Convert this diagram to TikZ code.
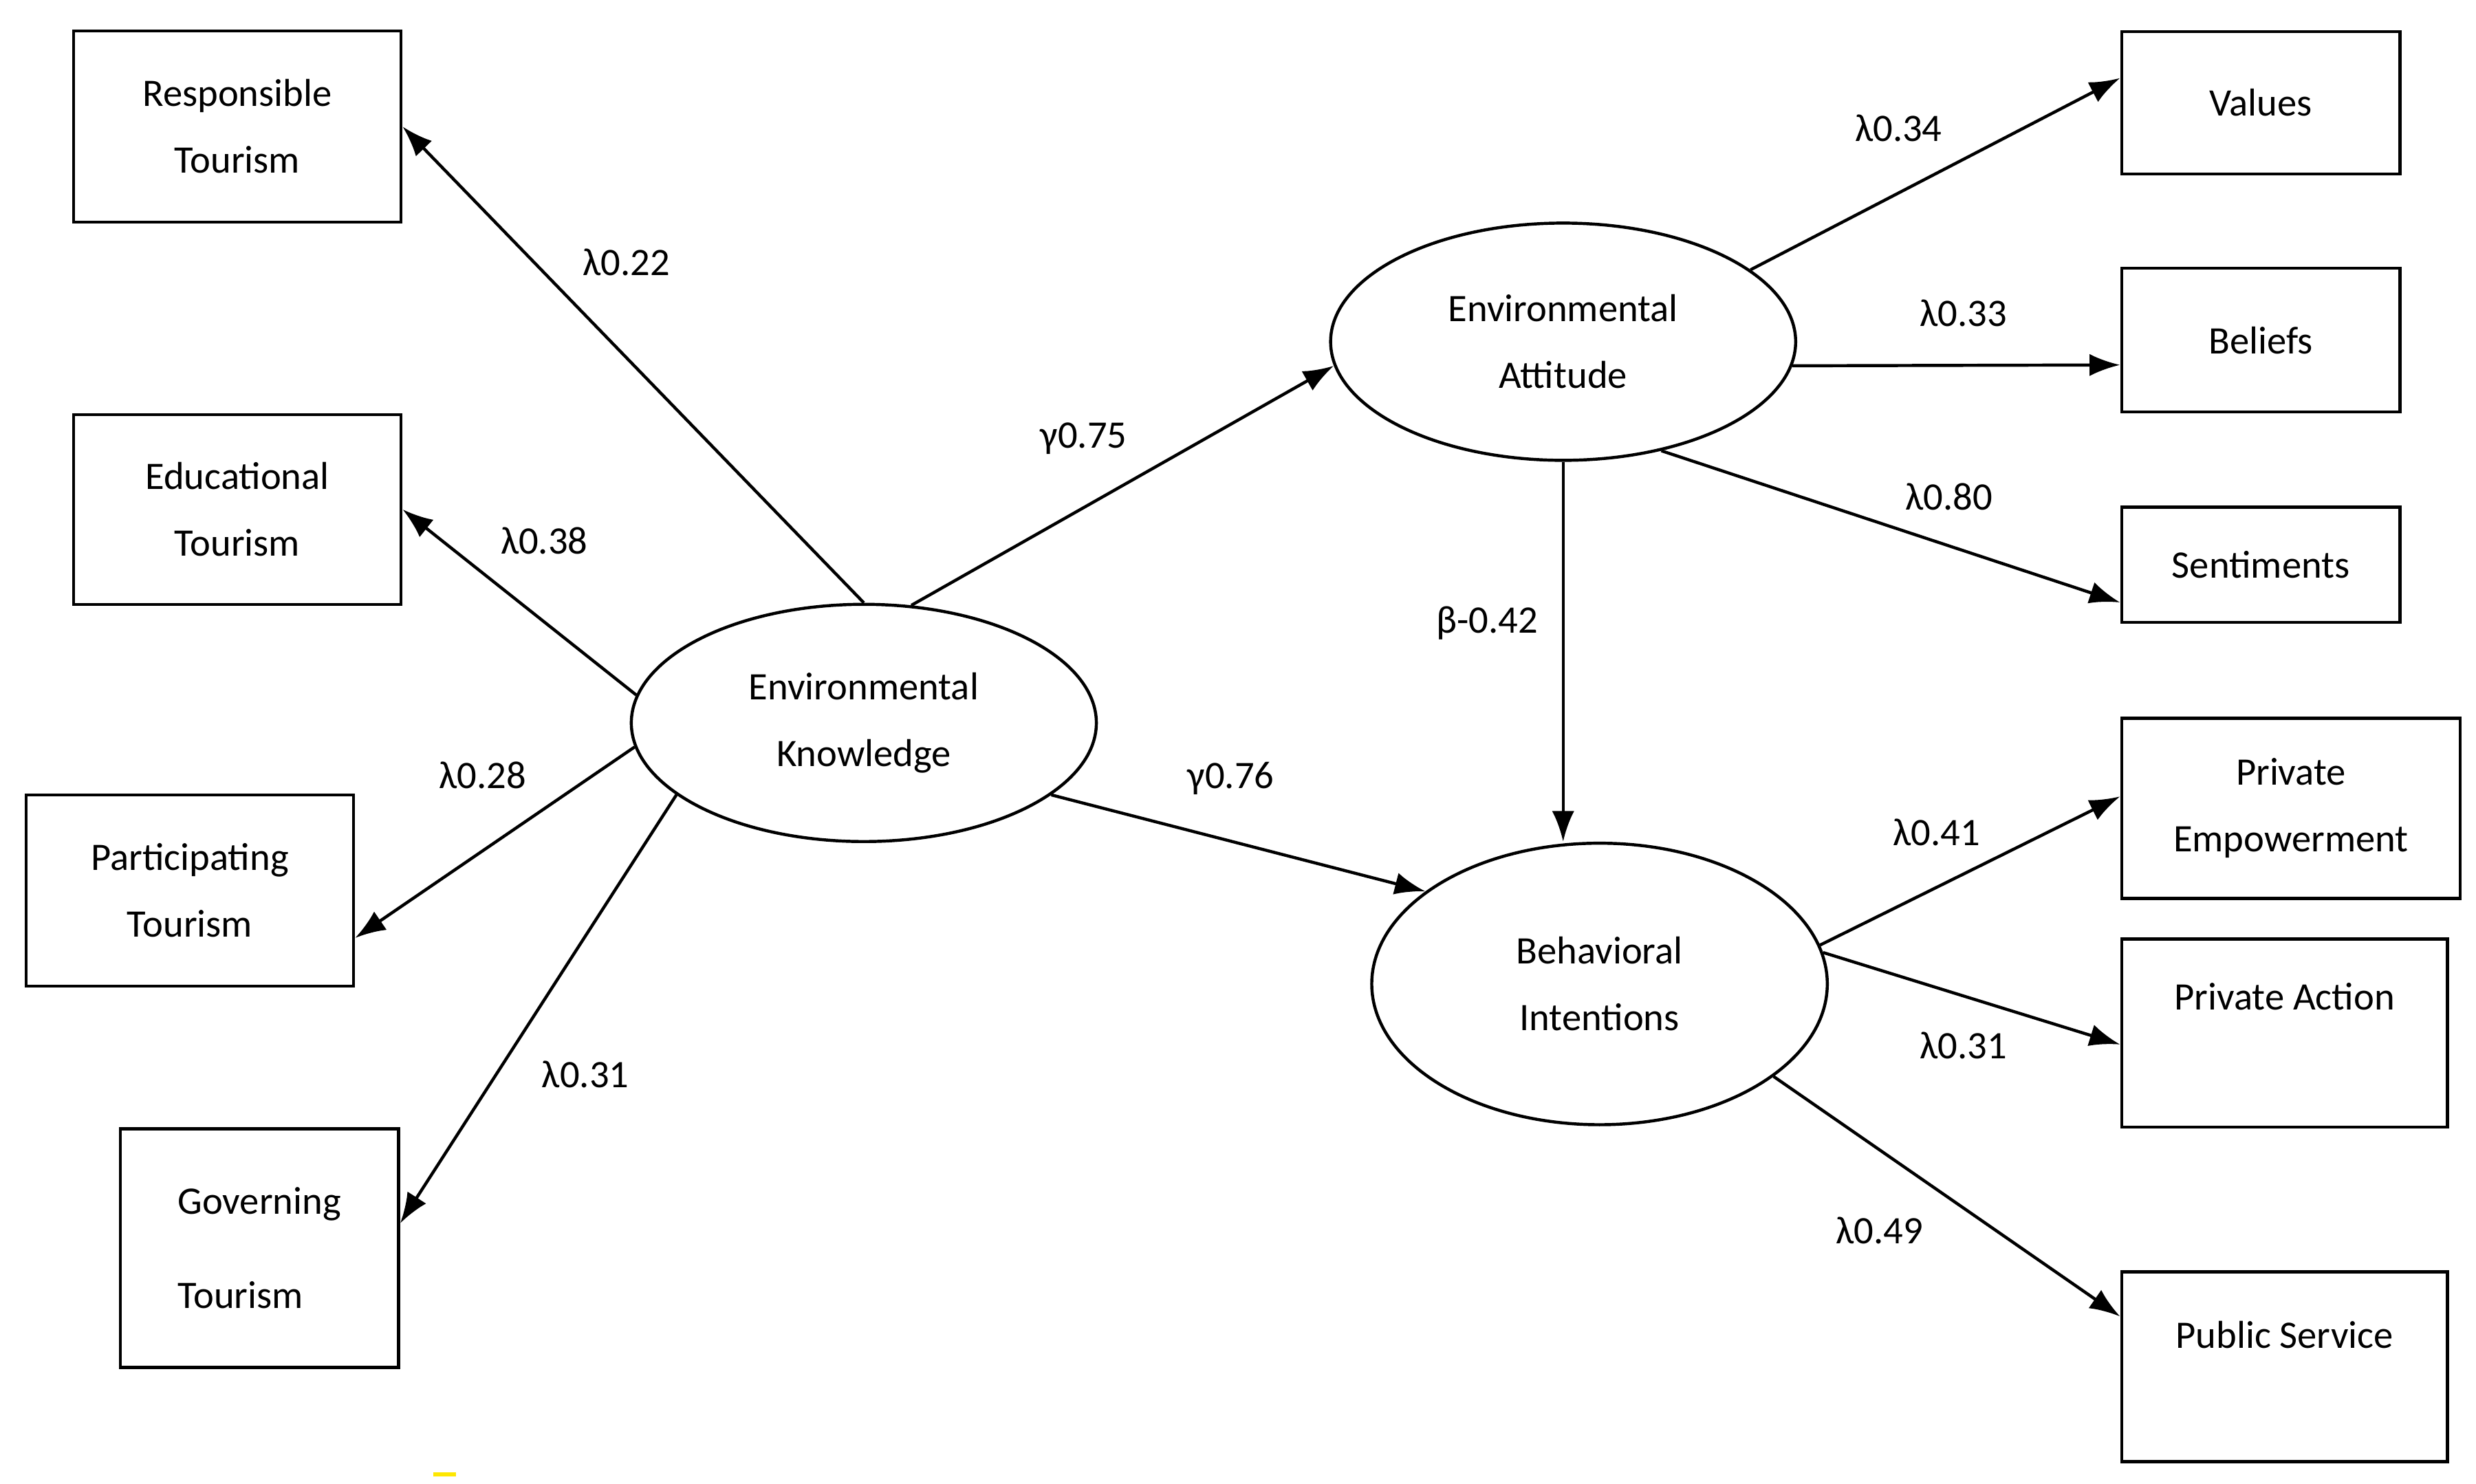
\documentclass[tikz,border=0pt]{standalone}
\usepackage{fontspec}
\setmainfont{Carlito}
\usetikzlibrary{shapes.geometric,arrows.meta}

\tikzset{
  obsbox/.style={draw, line width=1.1pt, rectangle, align=center, inner sep=0pt},
  latent/.style={draw, line width=1.1pt, ellipse, align=center, inner sep=0pt},
  path/.style={line width=1.1pt, -{Latex[length=11pt,width=8pt]}},
  coef/.style={font=\fontsize{14}{16}\selectfont}
}

\begin{document}
\begin{tikzpicture}[x=0.02cm, y=-0.02cm, font=\fontsize{14}{24}\selectfont]
\useasboundingbox (0,0) rectangle (1565,938);
% left indicators
\node[obsbox, minimum width=4.14cm, minimum height=2.42cm] (RT) at (150,80) {Responsible\\Tourism};
\node[obsbox, minimum width=4.14cm, minimum height=2.40cm] (ET) at (150,322) {Educational\\Tourism};
\node[obsbox, minimum width=4.14cm, minimum height=2.42cm] (PT) at (120,563) {Participating\\Tourism};
\node[obsbox, minimum width=3.52cm, minimum height=3.02cm, align=left] (GT) at (164,789) {Governing\\[0.35cm]Tourism};
% latent variables
\node[latent, minimum width=5.88cm, minimum height=3.0cm] (EK) at (546,457) {Environmental\\Knowledge};
\node[latent, minimum width=5.88cm, minimum height=3.0cm] (EA) at (988,216) {Environmental\\Attitude};
\node[latent, minimum width=5.76cm, minimum height=3.56cm] (BI) at (1011,622) {Behavioral\\Intentions};
% right indicators
\node[obsbox, minimum width=3.52cm, minimum height=1.80cm] (VA) at (1429,65) {Values};
\node[obsbox, minimum width=3.52cm, minimum height=1.82cm] (BE) at (1429,215) {Beliefs};
\node[obsbox, minimum width=3.52cm, minimum height=1.46cm] (SE) at (1429,357) {Sentiments};
\node[obsbox, minimum width=4.28cm, minimum height=2.28cm] (PE) at (1448,511) {Private\\Empowerment};
\node[obsbox, minimum width=4.12cm, minimum height=2.38cm,
  label={[anchor=north, yshift=-0.45cm]north:Private Action}] (PA) at (1444,653) {};
\node[obsbox, minimum width=4.12cm, minimum height=2.40cm,
  label={[anchor=north, yshift=-0.52cm]north:Public Service}] (PS) at (1444,864) {};
% paths
\draw[path] (EK.north) -- (RT.east);
\draw[path] (EK.173) -- (ET.east);
\draw[path] (EK.186) -- (PT.-16);
\draw[path] (EK.201) -- (GT.10);
\draw[path] (EK.68) -- (EA.186);
\draw[path] (EK.-21) -- (BI.152);
\draw[path] (EA.south) -- (EA.south |- BI.north);
\draw[path] (EA.21) -- (VA.170);
\draw[path] (EA.-6) -- (BE.190);
\draw[path] (EA.-48) -- (SE.195);
\draw[path] (BI.10) -- (PE.176);
\draw[path] (BI.8) -- (PA.184);
\draw[path] (BI.-28) -- (PS.163);
% coefficients
\node[coef] (c1) at (396,166) {λ0.22};
\node[coef] (c2) at (344,342) {λ0.38};
\node[coef] (c3) at (305,490) {λ0.28};
\node[coef] (c4) at (370,679) {λ0.31};
\node[coef] (c5) at (685,277) {γ0.75};
\node[coef] (c6) at (778,492) {γ0.76};
\node[coef] (c7) at (940,394) {β-0.42};
\node[coef] (c8) at (1200,81) {λ0.34};
\node[coef] (c9) at (1241,198) {λ0.33};
\node[coef] (c10) at (1232,314) {λ0.80};
\node[coef] (c11) at (1224,526) {λ0.41};
\node[coef] (c12) at (1241,661) {λ0.31};
\node[coef] (c13) at (1188,778) {λ0.49};
\draw[yellow!90!orange, line width=1.5pt] (274,932) -- (288,932);
\end{tikzpicture}
\end{document}
